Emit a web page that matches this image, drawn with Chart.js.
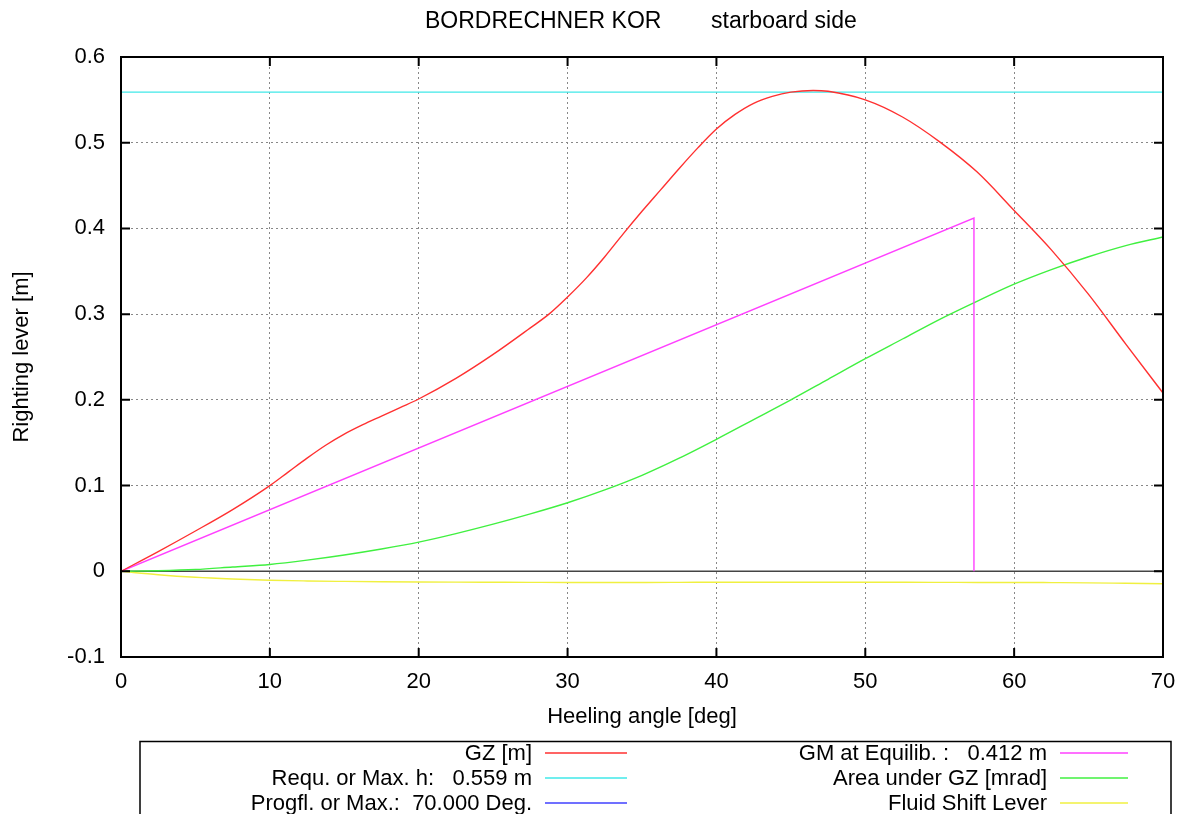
<!DOCTYPE html>
<html>
<head>
<meta charset="utf-8">
<script src="https://cdn.jsdelivr.net/npm/chart.js@4.4.1/dist/chart.umd.min.js"></script>
<style>
  html, body { margin: 0; padding: 0; background: #fff; }
  #wrap { width: 1188px; height: 814px; position: relative; }
</style>
</head>
<body>
<div id="wrap"><canvas id="stab"></canvas></div>
<script>
// heeling angles [deg] for GZ curve
const gzAngles = [0, 2.5, 5, 7.5, 10, 11.25, 12.5, 13.75, 15, 16.25, 17.5, 18.75, 20, 22.5, 25, 27.5, 28.75, 30, 31.25, 32.5, 33.75, 35, 36.25, 37.5, 38.75, 40, 41.25, 42.5, 43.75, 45, 46.5, 47.5, 50, 52.5, 55, 57.5, 60, 62.5, 65, 67.5, 70]
// GZ righting lever [m]
const gz = [0, 0.023, 0.047, 0.072, 0.100, 0.116, 0.132, 0.147, 0.160, 0.171, 0.181, 0.191, 0.201, 0.225, 0.253, 0.284, 0.300, 0.320, 0.342, 0.367, 0.394, 0.420, 0.445, 0.470, 0.494, 0.516, 0.533, 0.546, 0.554, 0.559, 0.561, 0.560, 0.550, 0.530, 0.501, 0.466, 0.421, 0.375, 0.323, 0.265, 0.208]
// heeling angles [deg] for area / fluid curves
const angles = [0, 2.5, 5, 7.5, 10, 12.5, 15, 17.5, 20, 22.5, 25, 27.5, 30, 32.5, 35, 37.5, 40, 42.5, 45, 47.5, 50, 52.5, 55, 57.5, 60, 62.5, 65, 67.5, 70]
// area under GZ [m rad]
const area = [0, 0.0006, 0.002, 0.005, 0.008, 0.013, 0.019, 0.026, 0.034, 0.044, 0.055, 0.067, 0.080, 0.095, 0.112, 0.132, 0.154, 0.177, 0.200, 0.224, 0.248, 0.271, 0.294, 0.315, 0.335, 0.352, 0.367, 0.380, 0.390]
// fluid shift lever [m]
const fluid = [0, -0.004, -0.007, -0.009, -0.0105, -0.0113, -0.0118, -0.0122, -0.0125, -0.0127, -0.0128, -0.0129, -0.013, -0.013, -0.013, -0.0129, -0.0128, -0.0128, -0.0128, -0.0128, -0.0128, -0.0128, -0.0129, -0.013, -0.013, -0.0132, -0.0135, -0.014, -0.0145]

const reqH = 0.559        // required / max. h [m]
const progflAngle = 70.0  // progressive flooding angle [deg]
const gmEquilib = 0.412   // GM at equilibrium [m]
const gmAngle = 57.3      // 1 rad [deg]

const xTicks = [0, 10, 20, 30, 40, 50, 60, 70]
const yTicks = [-0.1, 0, 0.1, 0.2, 0.3, 0.4, 0.5, 0.6]

const titleLeft = 'BORDRECHNER KOR'
const titleRight = 'starboard side'

const FONT = '"Liberation Sans", Arial, sans-serif'
const FSIZE = 22

function pts(xs, ys) {
  return xs.map((x, i) => ({ x: x, y: ys[i] }))
}

// gnuplot-like frame, inward ticks, zero axis, title and key
const gnuFrame = {
  id: 'gnuFrame',
  beforeDatasetsDraw(chart) {
    const { ctx, chartArea: a, scales: { y } } = chart
    ctx.save()
    ctx.strokeStyle = '#444'
    ctx.lineWidth = 1.5
    const y0 = y.getPixelForValue(0)
    ctx.beginPath()
    ctx.moveTo(a.left, y0)
    ctx.lineTo(a.right, y0)
    ctx.stroke()
    ctx.restore()
  },
  afterDraw(chart) {
    const { ctx, chartArea: a, scales: { x, y } } = chart
    ctx.save()
    ctx.strokeStyle = '#000'
    ctx.lineWidth = 2
    ctx.strokeRect(a.left, a.top, a.right - a.left, a.bottom - a.top)
    const tl = 9
    ctx.beginPath()
    xTicks.forEach(v => {
      const px = x.getPixelForValue(v)
      ctx.moveTo(px, a.bottom); ctx.lineTo(px, a.bottom - tl)
      ctx.moveTo(px, a.top); ctx.lineTo(px, a.top + tl)
    })
    yTicks.forEach(v => {
      const py = y.getPixelForValue(v)
      ctx.moveTo(a.left, py); ctx.lineTo(a.left + tl, py)
      ctx.moveTo(a.right, py); ctx.lineTo(a.right - tl, py)
    })
    ctx.stroke()

    // title
    ctx.fillStyle = '#000'
    ctx.font = '23px ' + FONT
    ctx.textBaseline = 'middle'
    ctx.textAlign = 'left'
    ctx.fillText(titleLeft, 425, 22)
    ctx.fillText(titleRight, 711, 22)

    // key box
    ctx.strokeStyle = '#000'
    ctx.lineWidth = 1.5
    ctx.beginPath()
    ctx.moveTo(140, 830); ctx.lineTo(140, 741.5); ctx.lineTo(1171, 741.5); ctx.lineTo(1171, 830)
    ctx.stroke()

    ctx.font = FSIZE + 'px ' + FONT
    ctx.textAlign = 'right'
    const cols = [{ textRight: 532, s0: 545, s1: 627 }, { textRight: 1047, s0: 1060, s1: 1128 }]
    const rows = [753, 778, 803]
    chart.data.datasets.forEach((ds, i) => {
      const c = cols[Math.floor(i / 3)]
      const ry = rows[i % 3]
      ctx.fillStyle = '#000'
      ctx.fillText(ds.label, c.textRight, ry + 1)
      ctx.strokeStyle = ds.borderColor
      ctx.lineWidth = 1.5
      ctx.beginPath()
      ctx.moveTo(c.s0, ry); ctx.lineTo(c.s1, ry)
      ctx.stroke()
    })
    ctx.restore()
  }
}

const ctx = document.getElementById('stab')

new Chart(ctx, {
  type: 'scatter',
  data: {
    datasets: [
      {
        label: 'GZ [m]',
        data: pts(gzAngles, gz),
        borderColor: '#ff3030',
        cubicInterpolationMode: 'monotone'
      },
      {
        label: 'Requ. or Max. h:   ' + reqH.toFixed(3) + ' m',
        data: [{ x: 0, y: reqH }, { x: 70, y: reqH }],
        borderColor: '#40e8e8'
      },
      {
        label: 'Progfl. or Max.:  ' + progflAngle.toFixed(3) + ' Deg.',
        data: [{ x: progflAngle, y: 0 }, { x: progflAngle, y: reqH }],
        borderColor: '#4040ff'
      },
      {
        label: 'GM at Equilib. :   ' + gmEquilib.toFixed(3) + ' m',
        data: [{ x: 0, y: 0 }, { x: gmAngle, y: gmEquilib }, { x: gmAngle, y: 0 }],
        borderColor: '#ff40ff'
      },
      {
        label: 'Area under GZ [mrad]',
        data: pts(angles, area),
        borderColor: '#40f040',
        cubicInterpolationMode: 'monotone'
      },
      {
        label: 'Fluid Shift Lever',
        data: pts(angles, fluid),
        borderColor: '#f0f040',
        cubicInterpolationMode: 'monotone'
      }
    ].map(ds => Object.assign({ showLine: true, pointRadius: 0, borderWidth: 1.4, fill: false }, ds))
  },
  options: {
    responsive: true,
    maintainAspectRatio: false,
    animation: false,
    layout: { padding: { left: 0, right: 25, top: 57, bottom: 73 } },
    plugins: {
      legend: { display: false },
      title: { display: false },
      tooltip: { enabled: false }
    },
    scales: {
      x: {
        type: 'linear',
        min: 0,
        max: 70,
        afterFit: s => { s.height = 84 },
        afterBuildTicks: s => { s.ticks = xTicks.map(v => ({ value: v })) },
        ticks: { color: '#000', font: { family: FONT, size: FSIZE }, padding: 12, maxRotation: 0 },
        grid: { color: '#888', drawTicks: false, lineWidth: 1 },
        border: { display: false, dash: [2, 3] },
        title: { display: true, text: 'Heeling angle [deg]', color: '#000', font: { family: FONT, size: FSIZE }, padding: { top: 0, bottom: 11 } }
      },
      y: {
        type: 'linear',
        min: -0.1,
        max: 0.6,
        afterFit: s => { s.width = 121 },
        afterBuildTicks: s => { s.ticks = yTicks.map(v => ({ value: v })) },
        ticks: {
          color: '#000',
          font: { family: FONT, size: FSIZE },
          padding: 16,
          callback: v => String(+v.toFixed(1))
        },
        grid: { color: '#888', drawTicks: false, lineWidth: 1 },
        border: { display: false, dash: [2, 3] },
        title: { display: true, text: 'Righting lever [m]', color: '#000', font: { family: FONT, size: FSIZE }, padding: { top: 9, bottom: 0 } }
      }
    }
  },
  plugins: [gnuFrame]
})
</script>
</body>
</html>
